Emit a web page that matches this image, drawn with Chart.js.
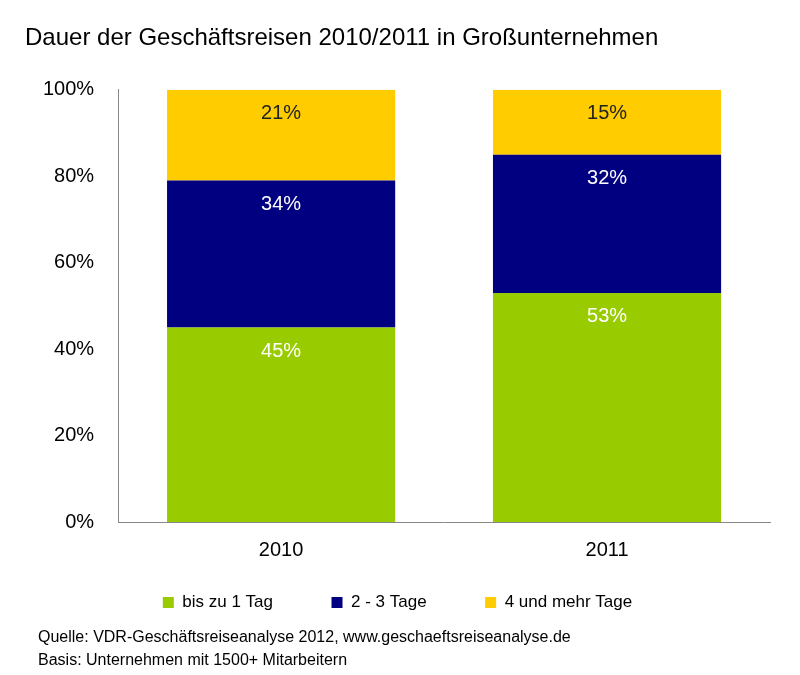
<!DOCTYPE html>
<html><head><meta charset="utf-8">
<script src="https://cdn.jsdelivr.net/npm/chart.js@4/dist/chart.umd.min.js"></script>
<style>html,body{margin:0;padding:0;background:#fff}#w{width:800px;height:675px}</style>
</head><body><div id="w"><canvas id="c"></canvas></div>
<script>
const categories = ["2010", "2011"];
const seriesNames = ["bis zu 1 Tag", "2 - 3 Tage", "4 und mehr Tage"];
const short = [45, 53];
const medium = [34, 32];
const long = [21, 15];
const colors = ["#99cc00", "#000080", "#ffcc00"];
const labelColors = ["#ffffff", "#ffffff", "#222222"];
const sourceLines = ["Quelle: VDR-Geschäftsreiseanalyse 2012, www.geschaeftsreiseanalyse.de", "Basis: Unternehmen mit 1500+ Mitarbeitern"];
const F = "'Liberation Sans', Arial, sans-serif";

const labelPlugin = {
  id: 'lbl',
  afterDatasetsDraw(chart) {
    const ctx = chart.ctx;
    ctx.save();
    ctx.font = "20px " + F;
    ctx.textAlign = "center";
    ctx.textBaseline = "middle";
    chart.data.datasets.forEach((ds, i) => {
      chart.getDatasetMeta(i).data.forEach((bar, j) => {
        ctx.fillStyle = labelColors[i];
        ctx.fillText(ds.data[j] + "%", bar.x, bar.y + 24);
      });
    });
    ctx.font = "16px " + F;
    ctx.fillStyle = "#000";
    ctx.textAlign = "left";
    ctx.fillText(sourceLines[0], 38, 638);
    ctx.fillText(sourceLines[1], 38, 661);
    ctx.restore();
  }
};

new Chart(document.getElementById('c'), {
  type: 'bar',
  data: {
    labels: categories,
    datasets: [short, medium, long].map((d, i) => ({
      label: seriesNames[i], data: d, backgroundColor: colors[i],
      categoryPercentage: 0.7, barPercentage: 1.0
    }))
  },
  options: {
    responsive: true, maintainAspectRatio: false, animation: false,
    layout: { padding: { left: 25, right: 30, top: 0, bottom: 54 } },
    plugins: {
      title: { display: true, align: 'start', text: "Dauer der Geschäftsreisen 2010/2011 in Großunternehmen",
        font: { family: F, size: 24, weight: 'normal' }, color: "#000", padding: { top: 24, bottom: 37 } },
      legend: { position: 'bottom', labels: { font: { family: F, size: 17 }, color: "#000",
        boxWidth: 11, boxHeight: 11, padding: 16,
        generateLabels(chart) {
          const items = Chart.defaults.plugins.legend.labels.generateLabels(chart);
          items.forEach((it, k) => { if (k < items.length - 1) it.text = it.text + "         "; it.strokeStyle = 'rgba(0,0,0,0)'; it.lineWidth = 0; });
          return items;
        } } },
      tooltip: { enabled: false }
    },
    scales: {
      x: { stacked: true, grid: { display: false, drawTicks: false }, border: { color: "#888" },
        ticks: { font: { family: F, size: 20 }, color: "#000", padding: 16 } },
      y: { stacked: true, min: 0, max: 100, grid: { display: false, drawTicks: true, tickLength: 6 },
        border: { color: "#888" },
        ticks: { stepSize: 20, font: { family: F, size: 20 }, color: "#000", padding: 18,
          callback: v => v + "%" } }
    }
  },
  plugins: [labelPlugin]
});
</script></body></html>
